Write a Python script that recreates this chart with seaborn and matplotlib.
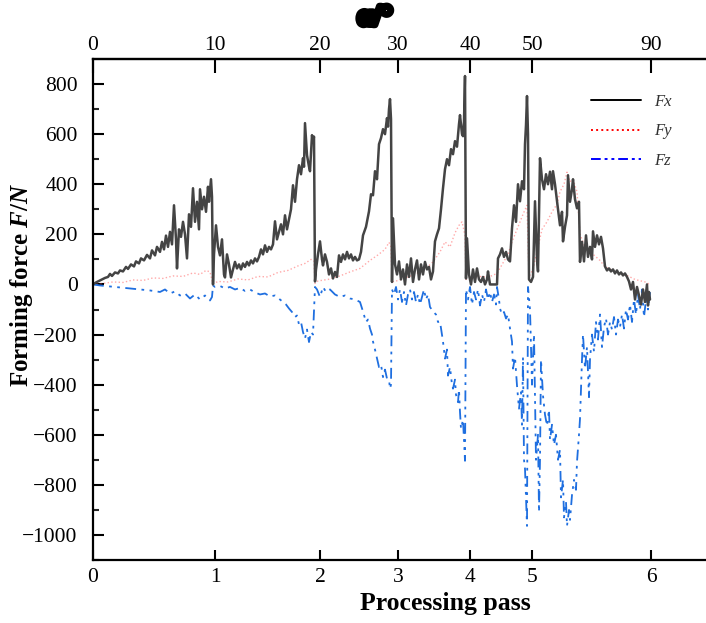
import numpy as np
import pandas as pd
import seaborn as sns
import matplotlib.pyplot as plt
from matplotlib.lines import Line2D
import matplotlib.patheffects as pe

# sample positions where each pass ends, and the labels used on both axes
pass_ticks = [0, 122, 227, 305, 377, 439, 558]
pass_labels = ["0", "1", "2", "3", "4", "5", "6"]
angle_labels = ["0", "10", "20", "30", "40", "50", "90"]

# Fx (sample, N)
fx_pts = [
    (0, 0), (3, 8), (6, 14), (9, 20), (12, 26), (15, 30), (17, 42), (19, 34), (22, 48), (25, 44),
    (27, 56), (30, 52), (33, 70), (35, 62), (38, 80), (41, 72), (43, 92), (46, 84), (48, 104), (51, 96),
    (54, 118), (57, 104), (59, 136), (62, 116), (64, 150), (67, 130), (69, 170), (71, 140), (73, 195),
    (75, 150), (77, 210), (79, 160), (81, 316), (83, 180), (84, 64), (86, 220), (88, 190), (90, 250),
    (92, 200), (94, 104), (96, 280), (98, 230), (100, 384), (102, 250), (104, 330), (106, 220),
    (107, 380), (109, 300), (111, 350), (113, 290), (115, 390), (116, 330), (118, 420), (119, 350),
    (120, 0), (121, 120), (123, 236), (125, 150), (127, 116), (129, 180), (131, 40), (132, 28),
    (134, 120), (136, 80), (138, 28), (140, 60), (142, 90), (144, 64), (146, 80), (148, 60), (150, 84),
    (152, 70), (154, 90), (156, 76), (158, 96), (160, 84), (162, 104), (164, 92), (166, 110),
    (168, 140), (170, 120), (172, 156), (174, 130), (176, 150), (178, 140), (180, 160), (182, 252),
    (184, 180), (186, 210), (188, 240), (190, 200), (192, 276), (194, 220), (196, 260), (198, 300),
    (200, 396), (202, 330), (204, 420), (206, 476), (208, 440), (210, 504), (211, 470), (212, 644),
    (214, 516), (216, 470), (217, 452), (219, 596), (220, 570), (221, 590), (222, 12),
    (223, 60), (225, 120), (227, 172), (229, 100), (230, 76), (232, 120), (234, 90), (236, 40),
    (238, 64), (240, 24), (242, 50), (244, 30), (246, 116), (248, 90), (250, 120), (252, 100),
    (254, 130), (256, 104), (258, 120), (260, 96), (262, 110), (264, 96), (266, 100), (268, 130),
    (270, 196), (273, 230), (276, 292), (278, 360), (280, 356), (282, 452), (284, 420), (286, 560),
    (288, 584), (290, 620), (292, 600), (294, 664), (295, 630), (296, 700), (297, 740), (298, 660),
    (299, 10),
    (300, 264), (302, 80), (304, 40), (306, 92), (308, 20), (310, 60), (312, 0), (314, 80), (316, 30),
    (318, 104), (320, 10), (322, 60), (324, 96), (326, 20), (328, 80), (330, 40), (332, 90), (334, 60),
    (336, 70), (338, 20), (340, 52), (342, 172), (344, 200), (346, 224), (348, 300), (350, 384),
    (352, 460), (354, 500), (356, 476), (358, 540), (360, 520), (362, 572), (364, 550), (366, 640),
    (367, 676), (369, 600), (370, 592), (371, 650), (372, 832), (373, 24),
    (374, 184), (376, 40), (378, 0), (380, 60), (382, 10), (384, 64), (386, 20), (388, 10), (390, 30),
    (392, 0), (394, 20), (395, 52), (397, 0), (404, 0), (405, 104), (407, 120), (409, 144), (411, 110),
    (413, 130), (415, 100), (417, 92), (419, 224), (421, 316), (423, 250), (425, 400), (427, 332),
    (429, 412), (431, 380), (432, 560), (433, 636), (434, 752), (435, 600), (436, 20), (438, 10),
    (440, 30),
    (442, 332), (444, 100), (445, 52), (447, 504), (449, 420), (451, 380), (453, 440), (455, 400),
    (457, 450), (459, 380), (460, 452), (462, 400), (464, 332), (465, 300), (467, 236), (469, 290),
    (470, 172), (472, 230), (474, 276), (475, 436), (477, 330), (479, 380), (480, 420), (482, 340),
    (484, 304), (486, 330), (487, 90), (489, 170), (491, 92), (493, 196), (495, 110), (497, 150),
    (499, 100), (500, 212), (502, 150), (504, 196), (506, 160), (508, 190), (510, 144), (512, 72),
    (514, 56), (516, 64), (518, 52), (520, 60), (522, 44), (524, 56), (526, 40), (528, 48), (530, 36),
    (532, 44), (534, 30), (536, 12), (538, -20), (540, 10), (542, -60), (544, -10), (546, -44),
    (548, -80), (550, -20), (552, -70), (554, 0), (555, -84), (556, -30), (557, -60),
]

# Fy (sample, N)
fy_pts = [
    (0, 0), (10, 4), (20, 10), (30, 8), (40, 18), (50, 16), (60, 26), (70, 24), (80, 34), (90, 32),
    (100, 46), (107, 40), (113, 56), (117, 50), (120, 2),
    (125, 12), (135, 10), (145, 22), (155, 18), (165, 32), (175, 30), (185, 48), (195, 56),
    (205, 74), (212, 84), (218, 100), (221, 94), (222, 4),
    (225, 14), (235, 20), (247, 34), (257, 50), (267, 64), (277, 96), (285, 118), (292, 140),
    (296, 168), (298, 150), (299, 10),
    (302, 12), (312, 26), (322, 40), (332, 60), (340, 90), (347, 130), (352, 170), (357, 150),
    (362, 206), (366, 236), (369, 250), (372, 196), (373, 20),
    (376, 26), (386, 32), (396, 30), (404, 44), (410, 86), (415, 120), (419, 170), (423, 210),
    (427, 250), (430, 280), (434, 316), (436, 30),
    (440, 60), (445, 150), (449, 220), (454, 250), (459, 290), (464, 320), (467, 370), (471, 400),
    (474, 448), (477, 410), (480, 420), (484, 370), (487, 200), (492, 150), (499, 124), (507, 96),
    (512, 70), (522, 52), (532, 40), (542, 20), (552, 10), (557, 0),
]

# Fz (sample, N)
fz_pts = [
    (0, 0), (7, -4), (17, -8), (27, -12), (37, -16), (47, -20), (57, -24), (67, -30), (72, -20),
    (77, -36), (82, -28), (87, -44), (92, -36), (97, -56), (102, -40), (107, -60), (112, -44),
    (117, -64), (119, -50), (120, -4),
    (122, -10), (127, -6), (132, -16), (137, -10), (142, -20), (147, -14), (152, -26), (157, -20),
    (162, -32), (167, -40), (172, -36), (177, -48), (182, -44), (187, -60), (190, -70), (193, -80),
    (196, -96), (199, -110), (202, -130), (204, -124), (206, -160), (208, -150), (210, -190),
    (212, -216), (214, -180), (216, -230), (218, -190), (220, -200), (222, -10),
    (224, -20), (227, -50), (230, -10), (233, -30), (237, -20), (242, -40), (247, -50), (252, -44),
    (257, -56), (262, -60), (267, -70), (270, -108), (273, -150), (275, -140), (277, -176),
    (279, -200), (280, -228), (282, -260), (284, -296), (286, -330), (288, -320), (290, -370),
    (292, -340), (294, -376), (296, -380), (297, -416), (298, -400), (299, -20),
    (301, -40), (303, -10), (305, -60), (307, -20), (309, -70), (311, -30), (313, -84), (315, -40),
    (317, -20), (319, -60), (321, -30), (323, -70), (325, -40), (327, -80), (329, -50), (331, -20),
    (333, -60), (335, -40), (337, -90), (340, -108), (343, -120), (345, -150), (347, -148),
    (349, -200), (350, -228), (352, -296), (354, -260), (355, -364), (357, -330), (359, -400),
    (360, -416), (362, -380), (363, -440), (365, -470), (366, -420), (367, -510), (368, -576),
    (370, -540), (371, -620), (372, -704), (373, -20),
    (375, -60), (377, -10), (379, -80), (381, -30), (383, -60), (385, -20), (387, -84), (389, -40),
    (391, -70), (393, -20), (395, -60), (397, -30), (399, -70), (401, -40), (403, -80), (404, -10),
    (406, -60), (407, -96), (409, -120), (411, -110), (413, -136), (415, -120), (417, -176),
    (419, -228), (420, -336), (422, -290), (424, -404), (426, -496), (428, -430), (429, -560),
    (430, -290), (431, -700), (432, -736), (433, -856), (434, -964), (435, -10),
    (437, -100), (439, -400), (441, -200), (443, -700), (445, -600), (446, -908), (447, -700),
    (448, -300), (450, -444), (452, -520), (454, -564), (456, -500), (457, -620), (459, -560),
    (461, -640), (463, -600), (465, -700), (467, -660), (468, -850), (470, -780), (471, -930),
    (473, -868), (474, -964), (476, -900), (477, -940), (479, -840), (481, -780), (483, -820),
    (484, -708), (486, -600), (487, -536), (489, -300), (490, -200), (492, -336), (494, -250),
    (496, -450), (497, -300), (499, -200), (501, -268), (503, -150), (505, -220), (507, -120),
    (509, -250), (511, -170), (513, -136), (515, -200), (517, -150), (519, -180), (521, -130),
    (523, -200), (525, -140), (527, -170), (529, -120), (531, -176), (533, -100), (535, -140),
    (537, -80), (539, -150), (541, -60), (543, -120), (545, -40), (547, -100), (549, -20),
    (551, -130), (553, -60), (555, -100), (557, -30),
]

fx_df = pd.DataFrame(fx_pts, columns=["sample", "force"])
fy_df = pd.DataFrame(fy_pts, columns=["sample", "force"])
fz_df = pd.DataFrame(fz_pts, columns=["sample", "force"])

sns.set_theme(style="ticks")
plt.rcParams["font.family"] = ["Liberation Serif", "DejaVu Serif"]
plt.rcParams["text.color"] = "black"
plt.rcParams["axes.labelcolor"] = "black"
plt.rcParams["mathtext.fontset"] = "custom"
plt.rcParams["mathtext.it"] = "Liberation Serif:bold:italic"
plt.rcParams["mathtext.rm"] = "Liberation Serif:bold"

fig = plt.figure(figsize=(7.06, 6.23), dpi=100)
ax = fig.add_axes([93 / 706, 63 / 623, 612 / 706, 501 / 623])

fz_col = "#1f6fe0"
sns.lineplot(data=fy_df, x="sample", y="force", ax=ax, color="#ff4040", alpha=0.45,
             linewidth=1.0, linestyle=":", estimator=None, sort=False)
sns.lineplot(data=fz_df, x="sample", y="force", ax=ax, color=fz_col, linewidth=1.3,
             dashes=False, estimator=None, sort=False)
ax.lines[-1].set_dashes([6, 3, 1.5, 3, 1.5, 3])
sns.lineplot(data=fx_df, x="sample", y="force", ax=ax, color="#444444", linewidth=1.8,
             estimator=None, sort=False)

ax.set_xlim(0, 612)
ax.set_ylim(-1100, 900)
ax.set_xticks(pass_ticks)
ax.set_xticklabels(pass_labels)
ax.set_yticks(np.arange(-1000, 801, 200))
ax.set_yticks(np.arange(-1100, 900, 100), minor=True)
ax.yaxis.set_major_formatter(plt.FuncFormatter(lambda v, p: f"{int(v)}".replace("-", "\u2212")))

ax.tick_params(axis="both", which="major", direction="in", labelsize=15.5, width=1.5, colors="black")
ax.tick_params(axis="y", which="major", length=8, pad=11)
ax.tick_params(axis="y", which="minor", direction="in", length=4, width=1.5)
ax.tick_params(axis="x", which="major", length=7, pad=6)

for s in ["left", "bottom", "top"]:
    ax.spines[s].set_linewidth(1.6)
    ax.spines[s].set_color("black")
ax.spines["right"].set_visible(False)

top = ax.secondary_xaxis("top")
top.set_xticks(pass_ticks)
top.set_xticklabels(angle_labels)
top.tick_params(direction="in", length=10, width=1.5, labelsize=15.5, pad=3, colors="black")
top.spines["top"].set_linewidth(1.6)

ax.set_xlabel("Processing pass", fontsize=18.5, fontweight="bold", color="black")
ax.xaxis.set_label_coords((445 - 93) / 612, -0.064)
ax.set_ylabel("Forming force $F/N$", fontsize=18, fontweight="bold", color="black")
ax.yaxis.set_label_coords(-0.094, 0.549)

fig.text(375 / 706, 1 - 18 / 623, "\u03b1/\u00b0", ha="center", va="center", fontsize=20,
         fontweight="bold", color="black",
         path_effects=[pe.withStroke(linewidth=5, foreground="black")])

handles = [
    Line2D([], [], color="black", linewidth=1.4),
    Line2D([], [], color="red", linewidth=1.4, linestyle=":"),
    Line2D([], [], color="blue", linewidth=1.4, dashes=[5, 2, 1.5, 2, 1.5, 2]),
]
leg = ax.legend(handles, ["Fx", "Fy", "Fz"], loc="upper right", bbox_to_anchor=(0.97, 0.96),
                frameon=False, handlelength=3.0, labelspacing=0.8,
                prop={"family": "Liberation Serif", "style": "italic", "size": 12})
for t in leg.get_texts():
    t.set_color("#333333")

fig.savefig("out.png", dpi=100)
